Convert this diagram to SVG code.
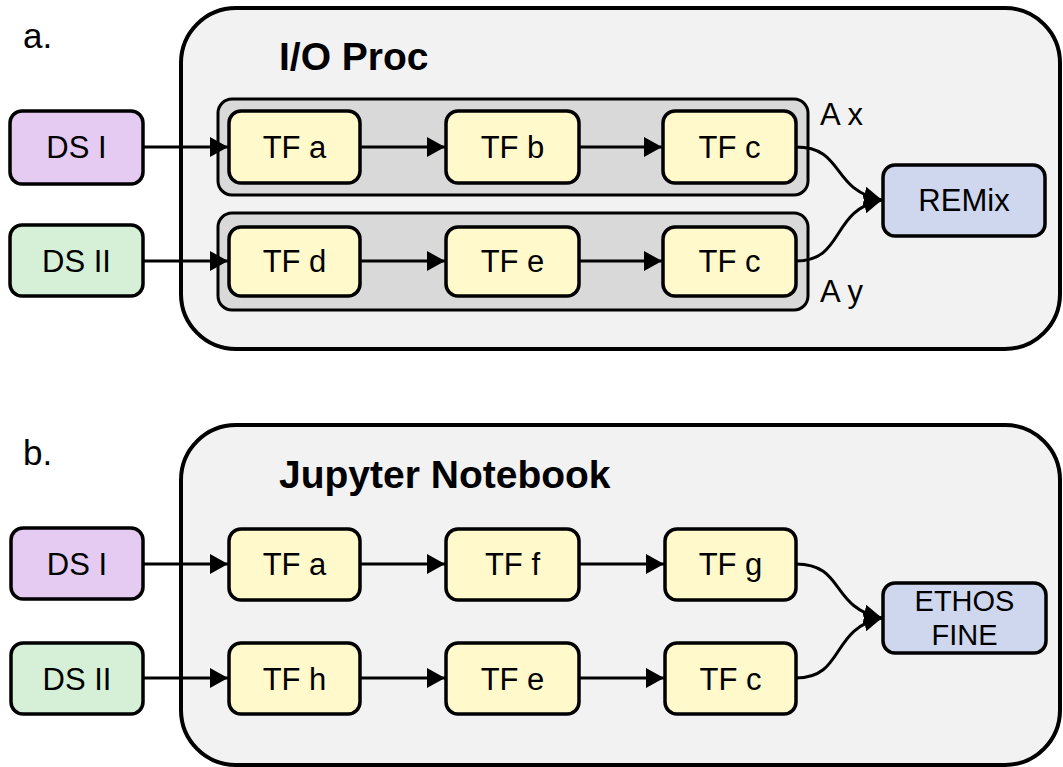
<svg xmlns="http://www.w3.org/2000/svg" width="1063" height="767" viewBox="0 0 1063 767">
  <defs>
    <style>
      .panel { fill: #f2f2f2; stroke: #000; stroke-width: 4; }
      .group { fill: #d9d9d9; stroke: #000; stroke-width: 3; }
      .node { stroke: #000; stroke-width: 3.5; }
      .ds1 { fill: #e5cbf1; }
      .ds2 { fill: #d5f0d7; }
      .tf { fill: #fff9cc; }
      .out { fill: #cfd7ee; }
      .lbl { font-family: "Liberation Sans", Arial, sans-serif; font-size: 31px; fill: #000; text-anchor: middle; }
      .lbl2 { font-family: "Liberation Sans", Arial, sans-serif; font-size: 29px; fill: #000; text-anchor: middle; }
      .tag { font-family: "Liberation Sans", Arial, sans-serif; font-size: 31px; fill: #000; }
      .title { font-family: "Liberation Sans", Arial, sans-serif; font-size: 39px; font-weight: bold; fill: #000; }
      .letter { font-family: "Liberation Sans", Arial, sans-serif; font-size: 35px; fill: #000; }
      .edge { fill: none; stroke: #000; stroke-width: 3; }
    </style>
    <marker id="arrow" viewBox="0 0 18 20" refX="18" refY="10" markerWidth="6" markerHeight="6.67" markerUnits="strokeWidth" orient="auto">
      <path d="M0,0 L18,10 L0,20 Z" fill="#000"/>
    </marker>
  </defs>

  <!-- Panel a -->
  <g id="panel-a">
    <rect class="panel" x="181" y="8" width="879" height="341" rx="55" ry="55"/>
    <text class="title" x="279" y="70">I/O Proc</text>
    <text class="letter" x="23" y="48">a.</text>
  </g>
  <g id="group-ax">
    <rect class="group" x="218" y="99" width="590" height="96" rx="14" ry="14"/>
    <text class="tag" x="820" y="125">A x</text>
  </g>
  <g id="group-ay">
    <rect class="group" x="218" y="213" width="590" height="97" rx="14" ry="14"/>
    <text class="tag" x="820" y="302">A y</text>
  </g>

  <g id="a-ds1"><rect class="node ds1" x="10" y="111" width="133" height="73" rx="12"/><text class="lbl" x="76.5" y="158">DS I</text></g>
  <g id="a-ds2"><rect class="node ds2" x="10" y="225" width="133" height="71" rx="12"/><text class="lbl" x="76.5" y="272">DS II</text></g>
  <g id="a-tfa"><rect class="node tf" x="229" y="111" width="131" height="72" rx="12"/><text class="lbl" x="294.5" y="158">TF a</text></g>
  <g id="a-tfb"><rect class="node tf" x="446" y="111" width="133" height="72" rx="12"/><text class="lbl" x="512.5" y="158">TF b</text></g>
  <g id="a-tfc1"><rect class="node tf" x="663" y="111" width="133" height="72" rx="12"/><text class="lbl" x="729.5" y="158">TF c</text></g>
  <g id="a-tfd"><rect class="node tf" x="229" y="227" width="131" height="69" rx="12"/><text class="lbl" x="294.5" y="272">TF d</text></g>
  <g id="a-tfe"><rect class="node tf" x="446" y="227" width="133" height="69" rx="12"/><text class="lbl" x="512.5" y="272">TF e</text></g>
  <g id="a-tfc2"><rect class="node tf" x="663" y="227" width="133" height="69" rx="12"/><text class="lbl" x="729.5" y="272">TF c</text></g>
  <g id="a-remix"><rect class="node out" x="883" y="165" width="162" height="71" rx="12"/><text class="lbl" x="964" y="211">REMix</text></g>

  <!-- Panel b -->
  <g id="panel-b">
    <rect class="panel" x="181" y="425" width="879" height="340" rx="55" ry="55"/>
    <text class="title" x="279" y="488">Jupyter Notebook</text>
    <text class="letter" x="23" y="465">b.</text>
  </g>

  <g id="b-ds1"><rect class="node ds1" x="11" y="528" width="132" height="71" rx="12"/><text class="lbl" x="77" y="575">DS I</text></g>
  <g id="b-ds2"><rect class="node ds2" x="11" y="643" width="132" height="71" rx="12"/><text class="lbl" x="77" y="690">DS II</text></g>
  <g id="b-tfa"><rect class="node tf" x="229" y="529" width="131" height="71" rx="12"/><text class="lbl" x="294.5" y="575">TF a</text></g>
  <g id="b-tff"><rect class="node tf" x="446" y="529" width="133" height="71" rx="12"/><text class="lbl" x="512.5" y="575">TF f</text></g>
  <g id="b-tfg"><rect class="node tf" x="665" y="529" width="131" height="71" rx="12"/><text class="lbl" x="730.5" y="575">TF g</text></g>
  <g id="b-tfh"><rect class="node tf" x="229" y="643" width="131" height="71" rx="12"/><text class="lbl" x="294.5" y="690">TF h</text></g>
  <g id="b-tfe"><rect class="node tf" x="446" y="643" width="133" height="71" rx="12"/><text class="lbl" x="512.5" y="690">TF e</text></g>
  <g id="b-tfc"><rect class="node tf" x="665" y="643" width="131" height="71" rx="12"/><text class="lbl" x="730.5" y="690">TF c</text></g>
  <g id="b-ethos"><rect class="node out" x="883" y="583" width="163" height="70" rx="12"/><text class="lbl2" x="964.5" y="611">ETHOS</text><text class="lbl2" x="964.5" y="645">FINE</text></g>

  <!-- Connectors -->
  <g id="connectors">
    <path class="edge" d="M143,147 H228" marker-end="url(#arrow)"/>
    <path class="edge" d="M143,261 H228" marker-end="url(#arrow)"/>
    <path class="edge" d="M360,147 H445" marker-end="url(#arrow)"/>
    <path class="edge" d="M579,147 H662" marker-end="url(#arrow)"/>
    <path class="edge" d="M360,261 H445" marker-end="url(#arrow)"/>
    <path class="edge" d="M579,261 H662" marker-end="url(#arrow)"/>
    <path class="edge" d="M796,147 C845,147 830,190 882,200" marker-end="url(#arrow)"/>
    <path class="edge" d="M796,261 C845,261 830,210 882,200" marker-end="url(#arrow)"/>

    <path class="edge" d="M143,564 H228" marker-end="url(#arrow)"/>
    <path class="edge" d="M143,678 H228" marker-end="url(#arrow)"/>
    <path class="edge" d="M360,564 H445" marker-end="url(#arrow)"/>
    <path class="edge" d="M579,564 H664" marker-end="url(#arrow)"/>
    <path class="edge" d="M360,678 H445" marker-end="url(#arrow)"/>
    <path class="edge" d="M579,678 H664" marker-end="url(#arrow)"/>
    <path class="edge" d="M796,564 C845,564 830,608 882,618" marker-end="url(#arrow)"/>
    <path class="edge" d="M796,678 C845,678 830,628 882,618" marker-end="url(#arrow)"/>
  </g>
</svg>
